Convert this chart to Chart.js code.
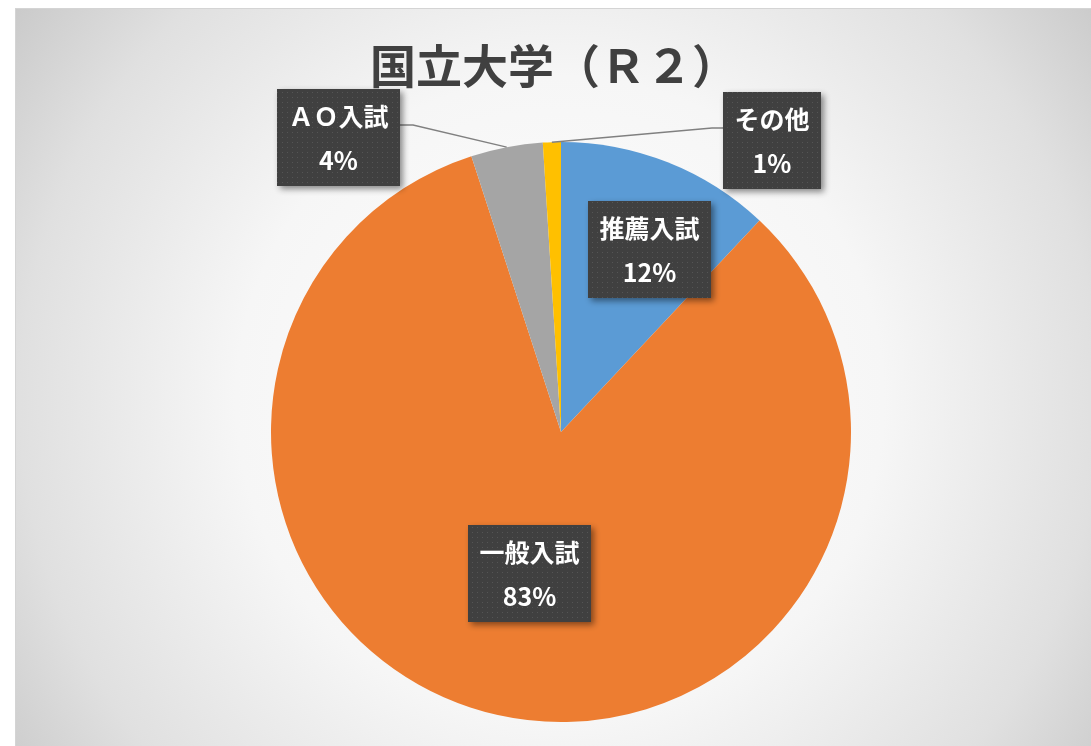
<!DOCTYPE html>
<html lang="ja">
<head>
<meta charset="utf-8">
<title>国立大学（Ｒ２）</title>
<script src="https://cdn.jsdelivr.net/npm/chart.js@4/dist/chart.umd.min.js"></script>
<style>
  html, body { margin: 0; padding: 0; background: #fff; }
  #wrap { width: 1091px; height: 746px; position: relative; }
</style>
</head>
<body>
<div id="wrap"><canvas id="chartNyushi"></canvas></div>
<script>
// データ
const titulo = '国立大学（Ｒ２）';
const categorias = ['推薦入試', '一般入試', 'ＡＯ入試', 'その他'];
const valores = [12, 83, 4, 1];
const colores = ['#5B9BD5', '#ED7D31', '#A5A5A5', '#FFC000'];

// ラベルの位置（半径に対する倍率）と引き出し線の有無
const labelPos = [
  { fx: 0.305, fy: -0.629, line: false },
  { fx: -0.107, fy: 0.488, line: false },
  { fx: -0.766, fy: -1.016, line: true },
  { fx: 0.728, fy: -1.005, line: true }
];

// ドット柄のパターン
function dotPattern() {
  const c = document.createElement('canvas');
  c.width = 5; c.height = 5;
  const g = c.getContext('2d');
  g.fillStyle = '#404040';
  g.fillRect(0, 0, 5, 5);
  g.fillStyle = '#555555';
  g.fillRect(2, 2, 1, 1);
  return g.createPattern(c, 'repeat');
}

// 背景と枠
const fondo = {
  id: 'fondo',
  beforeDraw(chart) {
    const ctx = chart.ctx;
    ctx.save();
    ctx.fillStyle = '#ffffff';
    ctx.fillRect(0, 0, chart.width, chart.height);
    const grad = ctx.createRadialGradient(560, 400, 0, 560, 400, 720);
    grad.addColorStop(0, '#ffffff');
    grad.addColorStop(0.45, '#f6f6f6');
    grad.addColorStop(0.75, '#e0e0e0');
    grad.addColorStop(0.95, '#c8c8c8');
    grad.addColorStop(1, '#c4c4c4');
    ctx.fillStyle = grad;
    ctx.fillRect(15, 9, chart.width - 15, chart.height - 9);
    ctx.strokeStyle = '#d4d4d4';
    ctx.lineWidth = 1;
    ctx.strokeRect(15.5, 8.5, chart.width, chart.height);
    // タイトル
    ctx.fillStyle = '#404040';
    ctx.font = 'bold 46px "Noto Sans CJK JP"';
    ctx.textAlign = 'center';
    ctx.textBaseline = 'middle';
    ctx.fillText(titulo, 554, 66);
    ctx.restore();
  }
};

// データラベル
const etiquetas = {
  id: 'etiquetas',
  afterDatasetsDraw(chart) {
    const ctx = chart.ctx;
    const meta = chart.getDatasetMeta(0);
    const total = valores.reduce((a, b) => a + b, 0);
    const patron = dotPattern();
    ctx.save();
    ctx.font = 'bold 25px "Noto Sans CJK JP"';
    meta.data.forEach((arc, i) => {
      const R = arc.outerRadius;
      const cx = arc.x + labelPos[i].fx * R;
      const cy = arc.y + labelPos[i].fy * R;
      const w = Math.round(ctx.measureText(categorias[i]).width + 23);
      const h = 97;
      const x0 = Math.round(cx - w / 2);
      const y0 = Math.round(cy - h / 2);

      if (labelPos[i].line) {
        const mid = (arc.startAngle + arc.endAngle) / 2;
        const px = arc.x + Math.cos(mid) * R;
        const py = arc.y + Math.sin(mid) * R;
        const ly = y0 + 36;
        const izq = cx < arc.x;
        const bx = izq ? x0 + w : x0;
        const ex = izq ? bx + 13 : bx - 11;
        ctx.strokeStyle = '#808080';
        ctx.lineWidth = 1.5;
        ctx.beginPath();
        ctx.moveTo(px, py);
        ctx.lineTo(ex, ly);
        ctx.lineTo(bx, ly);
        ctx.stroke();
      }

      ctx.save();
      ctx.shadowColor = 'rgba(0,0,0,0.45)';
      ctx.shadowBlur = 6;
      ctx.shadowOffsetX = 3;
      ctx.shadowOffsetY = 3;
      ctx.fillStyle = patron;
      ctx.fillRect(x0, y0, w, h);
      ctx.restore();

      ctx.fillStyle = '#ffffff';
      ctx.textAlign = 'center';
      ctx.textBaseline = 'middle';
      ctx.fillText(categorias[i], x0 + w / 2, y0 + 27);
      ctx.fillText(Math.round(valores[i] / total * 100) + '%', x0 + w / 2, y0 + 71);
    });
    ctx.restore();
  }
};

const ctx = document.getElementById('chartNyushi').getContext('2d');

const chartNyushi = new Chart(ctx, {
  type: 'pie',
  data: {
    labels: categorias,
    datasets: [{
      data: valores,
      backgroundColor: colores,
      borderWidth: 0
    }]
  },
  options: {
    responsive: true,
    maintainAspectRatio: false,
    animation: false,
    layout: {
      padding: { left: 271, right: 240, top: 142, bottom: 24 }
    },
    plugins: {
      legend: { display: false },
      title: { display: false },
      tooltip: { enabled: false }
    }
  },
  plugins: [fondo, etiquetas]
});
</script>
</body>
</html>
